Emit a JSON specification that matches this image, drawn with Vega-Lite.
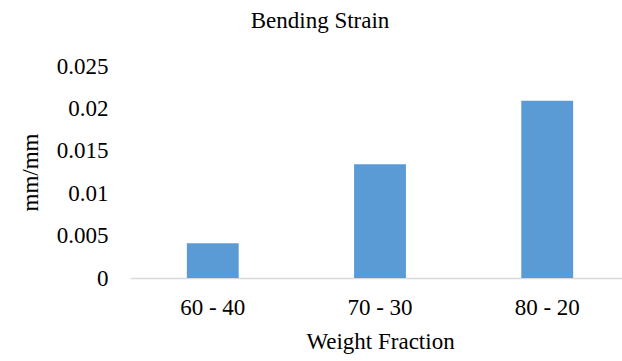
{
  "$schema": "https://vega.github.io/schema/vega-lite/v6.json",
  "autosize": "none",
  "width": 500,
  "height": 212,
  "padding": {"left": 130, "top": 66, "right": 0, "bottom": 83},
  "background": "white",
  "config": {
    "font": "Liberation Serif, Times New Roman, DejaVu Serif, serif",
    "view": {"stroke": null},
    "axis": {
      "labelFont": "Liberation Serif, Times New Roman, DejaVu Serif, serif",
      "titleFont": "Liberation Serif, Times New Roman, DejaVu Serif, serif"
    }
  },
  "title": {
    "text": "Bending Strain",
    "fontSize": 23,
    "fontWeight": "normal",
    "font": "Liberation Serif, Times New Roman, DejaVu Serif, serif",
    "color": "#000000",
    "anchor": "middle",
    "dx": -60,
    "offset": 22
  },
  "data": {
    "values": [
      {"fraction": "60 - 40", "strain": 0.0041},
      {"fraction": "70 - 30", "strain": 0.0134},
      {"fraction": "80 - 20", "strain": 0.0209}
    ]
  },
  "mark": {"type": "bar", "color": "#5B9BD5"},
  "encoding": {
    "x": {
      "field": "fraction",
      "type": "nominal",
      "sort": null,
      "scale": {"paddingInner": 0.69, "paddingOuter": 0.34},
      "axis": {
        "title": "Weight Fraction",
        "titleFontSize": 23,
        "titleFontWeight": "normal",
        "titleColor": "#000000",
        "titlePadding": 11,
        "labelFontSize": 23,
        "labelColor": "#000000",
        "labelAngle": 0,
        "labelPadding": 18,
        "ticks": false,
        "domainColor": "#d9d9d9",
        "domainWidth": 1.5
      }
    },
    "y": {
      "field": "strain",
      "type": "quantitative",
      "scale": {"domain": [0, 0.025]},
      "axis": {
        "title": "mm/mm",
        "titleFontSize": 23,
        "titleFontWeight": "normal",
        "titleColor": "#000000",
        "titlePadding": 14,
        "labelFontSize": 23,
        "labelColor": "#000000",
        "labelPadding": 22,
        "values": [0, 0.005, 0.01, 0.015, 0.02, 0.025],
        "labelExpr": "datum.value == 0 ? '0' : format(datum.value, '.3~f')",
        "ticks": false,
        "domain": false,
        "grid": false
      }
    }
  }
}
